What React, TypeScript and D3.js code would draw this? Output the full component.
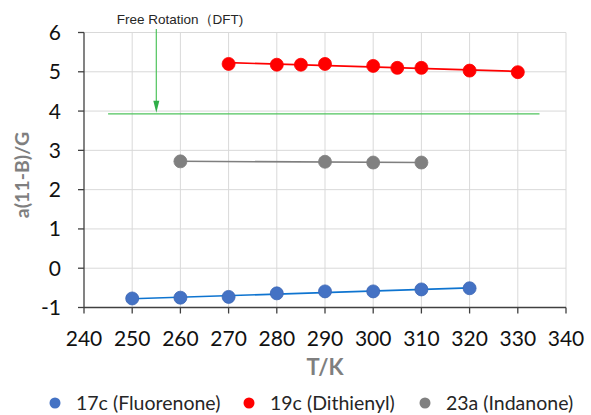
import * as d3 from "d3";

const xTicks = [240, 250, 260, 270, 280, 290, 300, 310, 320, 330, 340];
const yTicks = [-1, 0, 1, 2, 3, 4, 5, 6];

const blueT = [250, 260, 270, 280, 290, 300, 310, 320];
const blueV = [-0.77, -0.75, -0.73, -0.64, -0.59, -0.59, -0.54, -0.51];

const redT = [270, 280, 285, 290, 300, 305, 310, 320, 330];
const redV = [5.2, 5.18, 5.18, 5.2, 5.15, 5.1, 5.1, 5.03, 4.99];

const grayT = [260, 290, 300, 310];
const grayV = [2.72, 2.71, 2.69, 2.69];

const freeRotation = 3.93;
const freeRange = [245, 334.5];
const arrowT = 255;

const series = [
  { name: "17c (Fluorenone)", t: blueT, v: blueV, dot: "#4472c4", line: "#0e74d0" },
  { name: "19c (Dithienyl)", t: redT, v: redV, dot: "#ff0000", line: "#ff0000" },
  { name: "23a (Indanone)", t: grayT, v: grayV, dot: "#808080", line: "#7f7f7f" },
];

const font = "Lato, 'Open Sans', sans-serif";

// least-squares trendline through a series
function fit(t: number[], v: number[]) {
  const mt = d3.mean(t)!;
  const mv = d3.mean(v)!;
  const num = d3.sum(t, (x, i) => (x - mt) * (v[i] - mv));
  const den = d3.sum(t, (x) => (x - mt) * (x - mt));
  const b = num / den;
  return (x: number) => mv + b * (x - mt);
}

const App = () => {
  const x = d3.scaleLinear().domain([240, 340]).range([84, 566]);
  const y = d3.scaleLinear().domain([-1, 6]).range([307.5, 32.5]);
  const legendX = [55, 249, 425];

  return (
    <svg width={591} height={415} style={{ position: "absolute", left: 0, top: 0, background: "#fff" }}>
      {xTicks.slice(1).map((t) => (
        <line key={"gx" + t} x1={x(t)} x2={x(t)} y1={y(6)} y2={y(-1)} stroke="#d9d9d9" strokeWidth={1} />
      ))}
      {yTicks.slice(1).map((v) => (
        <line key={"gy" + v} x1={x(240)} x2={x(340)} y1={y(v)} y2={y(v)} stroke="#d9d9d9" strokeWidth={1} />
      ))}
      <line x1={x(240)} x2={x(240)} y1={y(6)} y2={y(-1)} stroke="#404040" strokeWidth={1.3} />
      <line x1={x(240)} x2={x(340)} y1={y(-1)} y2={y(-1)} stroke="#404040" strokeWidth={1.3} />
      {yTicks.map((v) => (
        <g key={"ty" + v}>
          <line x1={x(240) - 6} x2={x(240)} y1={y(v)} y2={y(v)} stroke="#404040" strokeWidth={1.3} />
          <text x={61} y={y(v)} dy="0.36em" textAnchor="end" fontFamily={font} fontSize={21} fill="#111">
            {v}
          </text>
        </g>
      ))}
      {xTicks.map((t) => (
        <g key={"tx" + t}>
          <line x1={x(t)} x2={x(t)} y1={y(-1)} y2={y(-1) + 6} stroke="#404040" strokeWidth={1.3} />
          <text x={x(t)} y={346} textAnchor="middle" fontFamily={font} fontSize={21} fill="#111">
            {t}
          </text>
        </g>
      ))}
      <text
        transform={`translate(22,175) rotate(-90)`}
        textAnchor="middle"
        dy="0.36em"
        fontFamily={font}
        fontSize={19.5}
        fontWeight="bold"
        fill="#7f7f7f"
      >
        a(11-B)/G
      </text>
      <text x={325} y={375} textAnchor="middle" fontFamily={font} fontSize={22} fontWeight="bold" fill="#7f7f7f">
        T/K
      </text>

      <line x1={x(freeRange[0])} x2={x(freeRange[1])} y1={y(freeRotation)} y2={y(freeRotation)} stroke="#4fc35c" strokeWidth={1.2} />
      <line x1={x(arrowT)} x2={x(arrowT)} y1={29} y2={y(freeRotation) - 8} stroke="#4fc35c" strokeWidth={1.2} />
      <path
        d={`M${x(arrowT) - 3},${y(freeRotation) - 13} L${x(arrowT) + 3},${y(freeRotation) - 13} L${x(arrowT)},${y(freeRotation) - 1} Z`}
        fill="#2fae48"
      />
      <text x={180} y={24} textAnchor="middle" fontFamily="'Liberation Sans', Arial, sans-serif" fontSize={13.5} fill="#262626">
        Free Rotation（DFT)
      </text>

      {series.map((s) => {
        const f = fit(s.t, s.v);
        const t0 = d3.min(s.t)!;
        const t1 = d3.max(s.t)!;
        return (
          <g key={s.name}>
            <line x1={x(t0)} x2={x(t1)} y1={y(f(t0))} y2={y(f(t1))} stroke={s.line} strokeWidth={1.6} />
            {s.t.map((t, i) => (
              <circle key={t} cx={x(t)} cy={y(s.v[i])} r={6.5} fill={s.dot} stroke={s.dot === "#4472c4" ? "#3b66b5" : s.dot} strokeWidth={0.8} />
            ))}
          </g>
        );
      })}

      {series.map((s, i) => (
        <g key={"lg" + s.name}>
          <circle cx={legendX[i]} cy={403} r={5.5} fill={s.dot} />
          <text x={legendX[i] + 21} y={403} dy="0.36em" fontFamily={font} fontSize={19.5} fill="#262626">
            {s.name}
          </text>
        </g>
      ))}
    </svg>
  );
};

export default App;
